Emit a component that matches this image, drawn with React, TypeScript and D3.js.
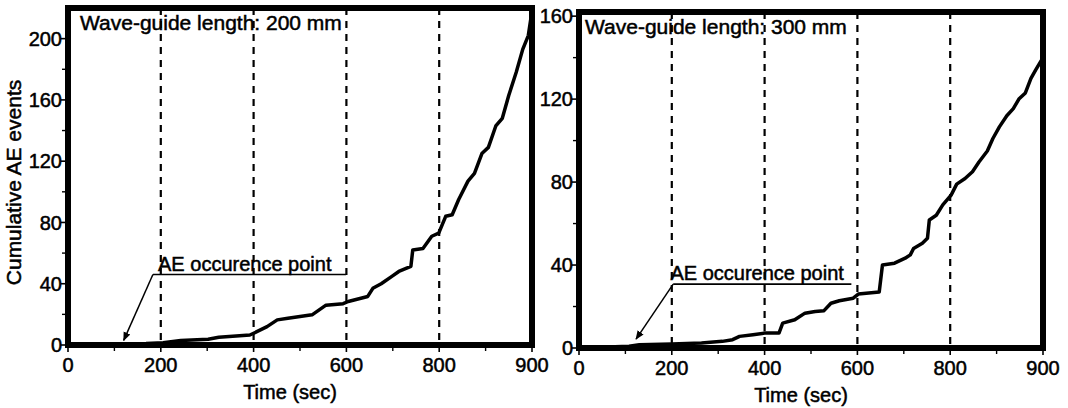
import React from "react";
import * as d3 from "d3";

// time axis: tick labels as printed (the 800-900 stretch is as wide as 600-800)
const timeTicks = [0, 200, 400, 600, 800, 900];
const timeMinor = [100, 300, 500, 700, 850];
const gridTimes = [200, 400, 600, 800];

const leftYTicks = [0, 40, 80, 120, 160, 200];
const leftYMinor = [20, 60, 100, 140, 180];
const rightYTicks = [0, 40, 80, 120, 160];
const rightYMinor = [20, 60, 100, 140];

// wave-guide 200 mm
const leftTime = [0, 168, 205, 243, 302, 325, 392, 407, 429, 451, 474, 526, 556, 593, 604, 646, 657, 675, 698, 713, 739, 743, 765, 784, 799, 807, 814, 821, 831, 838, 846, 853, 861, 868, 875, 883, 890, 896, 900];
const leftEvents = [0, 1, 1.5, 3, 3.7, 5, 6.5, 8.7, 12, 16.4, 17.5, 19.7, 26, 27, 28.4, 31.7, 37, 40, 44.8, 48, 51.3, 62, 63, 71, 73, 84, 85, 95, 107, 112, 125, 129, 143, 148, 163, 178, 193, 202, 218];

// wave-guide 300 mm
const rightTime = [0, 108, 130, 200, 264, 309, 331, 346, 375, 400, 431, 439, 465, 487, 509, 528, 543, 561, 591, 602, 647, 654, 680, 703, 714, 721, 740, 751, 755, 770, 784, 801, 807, 816, 824, 831, 840, 846, 853, 861, 868, 874, 881, 887, 892, 900];
const rightEvents = [0, 0.8, 1.6, 1.9, 2.4, 3.2, 4, 5.6, 6.4, 7.2, 7.2, 12, 13.6, 16.8, 17.6, 18, 21.6, 22.8, 24, 26, 27, 40, 40.9, 43.3, 44.9, 48, 50.5, 52.9, 61.7, 64, 69, 73.7, 79, 81.7, 85, 89.7, 95, 101, 106.6, 112, 115.4, 120, 123, 130, 134, 140];

const FONT = "'Liberation Sans', Arial, Helvetica, sans-serif";

function Panel(props) {
  const { left, right, top, bottom, yMax, yTicks, yMinor, time, events, title, titleDx, note, yLabel } = props;

  const step = (right - left) / 10;
  const x = d3.scaleLinear().domain([0, 800, 900]).range([left, left + 8 * step, right]);
  const y = d3.scaleLinear().domain([0, yMax]).range([bottom, top]);

  const line = d3.line()
    .x((d) => x(d[0]))
    .y((d) => y(d[1]));
  const pts = time.map((t, i) => [t, events[i]]);

  return (
    <g fontFamily={FONT} fill="#000">
      {/* dashed guides */}
      {gridTimes.map((t) => (
        <line key={"g" + t} x1={x(t)} x2={x(t)} y1={top} y2={bottom}
          stroke="#000" strokeWidth={2.2} strokeDasharray="7,6" />
      ))}

      {/* data */}
      <path d={line(pts)} fill="none" stroke="#000" strokeWidth={3.5} strokeLinejoin="round" />

      {/* frame */}
      <rect x={left} y={top} width={right - left} height={bottom - top}
        fill="none" stroke="#000" strokeWidth={6} />

      <g stroke="#000" strokeWidth={0.5}>
        {/* x ticks */}
        {timeTicks.map((t) => (
          <g key={"xt" + t}>
            <line x1={x(t)} x2={x(t)} y1={bottom} y2={bottom + 7} strokeWidth={1.6} />
            <text x={x(t)} y={bottom + 27} textAnchor="middle" fontSize={20}>{t}</text>
          </g>
        ))}
        {timeMinor.map((t) => (
          <line key={"xm" + t} x1={x(t)} x2={x(t)} y1={bottom} y2={bottom + 6} strokeWidth={1.4} />
        ))}

        {/* y ticks */}
        {yTicks.map((v) => (
          <g key={"yt" + v}>
            <line x1={left - 7} x2={left} y1={y(v)} y2={y(v)} strokeWidth={1.6} />
            <text x={left - 6} y={y(v)} dy="0.36em" textAnchor="end" fontSize={20}>{v}</text>
          </g>
        ))}
        {yMinor.map((v) => (
          <line key={"ym" + v} x1={left - 6} x2={left} y1={y(v)} y2={y(v)} strokeWidth={1.4} />
        ))}

        <text x={(left + right) / 2 - 10} y={bottom + 54} textAnchor="middle" fontSize={20}>Time (sec)</text>

        {yLabel && (
          <text transform={`translate(${left - 47},${(top + bottom) / 2 + 6}) rotate(-90)`}
            textAnchor="middle" fontSize={21}>{yLabel}</text>
        )}

        <text x={left + titleDx} y={top + 22} fontSize={21}>{title}</text>

        {/* annotation */}
        <text x={x(note.textT)} y={y(note.level) - 4} fontSize={20}>AE occurence point</text>
      </g>
      <line x1={x(note.elbowT)} x2={x(note.endT)} y1={y(note.level)} y2={y(note.level)}
        stroke="#000" strokeWidth={1.6} />
      <line x1={x(note.elbowT)} y1={y(note.level)} x2={x(note.tipT)} y2={y(note.tipV)}
        stroke="#000" strokeWidth={1.5} markerEnd="url(#arrow)" />
    </g>
  );
}

export default function App() {
  return (
    <svg width={1068} height={408} viewBox="0 0 1068 408"
      style={{ position: "absolute", left: 0, top: 0, background: "#fff" }}>
      <defs>
        <marker id="arrow" viewBox="0 0 10 10" refX={9} refY={5} markerWidth={9} markerHeight={9}
          orient="auto" markerUnits="userSpaceOnUse">
          <path d="M0,1 L10,5 L0,9 Z" fill="#000" />
        </marker>
      </defs>
      <rect x={0} y={0} width={1068} height={408} fill="#fff" />
      <Panel
        left={68} right={532} top={8} bottom={345}
        yMax={220} yTicks={leftYTicks} yMinor={leftYMinor}
        time={leftTime} events={leftEvents}
        title="Wave-guide length: 200 mm" titleDx={12}
        note={{ tipT: 120, tipV: 3, elbowT: 183, endT: 599, level: 46, textT: 194 }}
        yLabel="Cumulative AE events"
      />
      <Panel
        left={579} right={1043} top={12} bottom={348}
        yMax={162} yTicks={rightYTicks} yMinor={rightYMinor}
        time={rightTime} events={rightEvents}
        title="Wave-guide length: 300 mm" titleDx={6}
        note={{ tipT: 123, tipV: 4.3, elbowT: 203, endT: 587, level: 30.8, textT: 197 }}
      />
    </svg>
  );
}
